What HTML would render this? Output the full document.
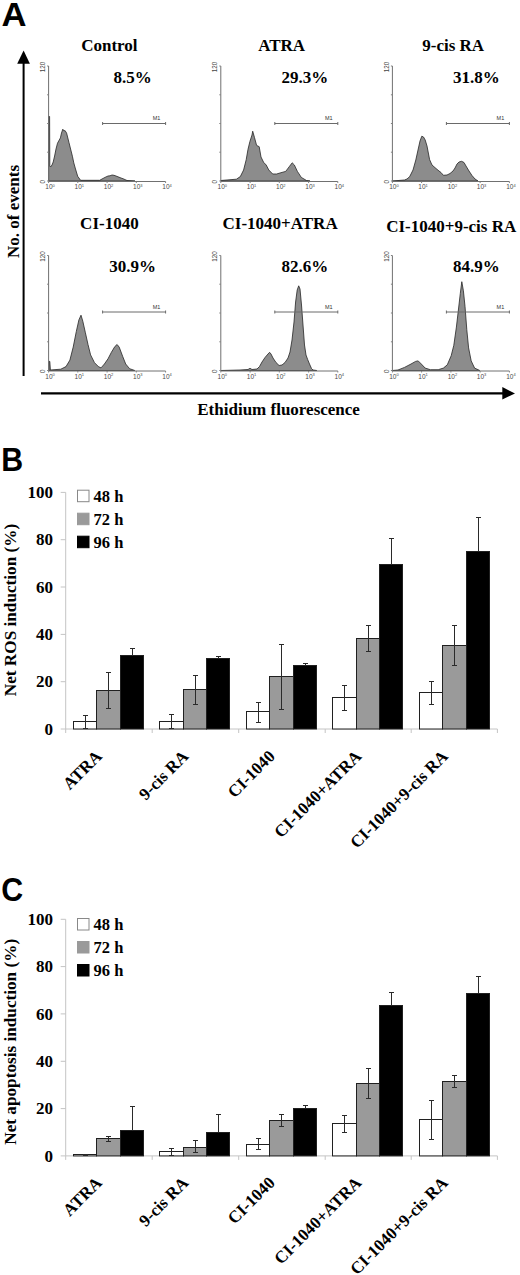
<!DOCTYPE html>
<html><head><meta charset="utf-8"><title>Figure</title>
<style>
html,body{margin:0;padding:0;background:#fff;}
body{width:520px;height:1275px;overflow:hidden;font-family:"Liberation Serif",serif;}
svg{display:block;}
</style></head>
<body>
<svg width="520" height="1275" viewBox="0 0 520 1275">
<rect x="0" y="0" width="520" height="1275" fill="#fff"/>
<text transform="translate(1.4,26.1) scale(1.05,1)" font-family='"Liberation Sans", sans-serif' font-weight="bold" font-size="33">A</text>
<line x1="23.6" y1="62" x2="23.6" y2="376" stroke="#000" stroke-width="2"/>
<polygon points="17.2,63.7 29.9,63.7 23.6,50.6" fill="#000"/>
<line x1="41" y1="393.4" x2="504" y2="393.4" stroke="#000" stroke-width="2.2"/>
<polygon points="502.3,387.1 502.3,399.6 515,393.4" fill="#000"/>
<text transform="translate(18.8,211.5) rotate(-90)" text-anchor="middle" font-family='"Liberation Serif", serif' font-weight="bold" font-size="17">No. of events</text>
<text x="278.6" y="415.1" text-anchor="middle" font-family='"Liberation Serif", serif' font-weight="bold" font-size="17">Ethidium fluorescence</text>
<text x="109.4" y="50.7" text-anchor="middle" font-family='"Liberation Serif", serif' font-weight="bold" font-size="17">Control</text>
<text x="132.6" y="83.0" text-anchor="middle" font-family='"Liberation Serif", serif' font-weight="bold" font-size="17">8.5%</text>
<path d="M48.6,181.0 L48.6,116.5 L49.6,116.5 L49.8,166.0 L50.5,167.0 L52.0,165.0 L53.2,162.0 L54.6,156.0 L56.0,149.0 L57.5,143.2 L60.4,137.9 L61.5,133.0 L62.8,129.2 L64.0,131.0 L65.0,130.5 L66.6,133.1 L69.0,142.7 L72.4,156.2 L73.8,162.9 L75.5,169.0 L77.7,176.3 L80.6,180.3 L99.7,180.3 L102.0,179.0 L105.0,177.4 L108.0,176.0 L110.0,175.8 L112.0,175.0 L114.0,175.3 L116.0,176.0 L118.0,176.8 L121.0,178.0 L123.0,178.7 L127.0,180.5 L135.0,181.0 Z" fill="#8c8c8c" stroke="#262626" stroke-width="0.8" stroke-linejoin="round"/>
<line x1="48.6" y1="66.0" x2="48.6" y2="181.5" stroke="#707070" stroke-width="1"/>
<line x1="48.6" y1="181.5" x2="165.6" y2="181.5" stroke="#707070" stroke-width="1"/>
<line x1="47.1" y1="181.0" x2="48.6" y2="181.0" stroke="#808080" stroke-width="1"/>
<line x1="48.6" y1="181.5" x2="48.6" y2="183.0" stroke="#808080" stroke-width="1"/>
<text x="50.1" y="189.0" text-anchor="middle" font-family='"Liberation Sans", sans-serif' font-size="6.5" fill="#4a4a4a">10<tspan dy="-2.5" font-size="4">0</tspan></text>
<line x1="47.1" y1="152.2" x2="48.6" y2="152.2" stroke="#808080" stroke-width="1"/>
<line x1="77.8" y1="181.5" x2="77.8" y2="183.0" stroke="#808080" stroke-width="1"/>
<text x="79.3" y="189.0" text-anchor="middle" font-family='"Liberation Sans", sans-serif' font-size="6.5" fill="#4a4a4a">10<tspan dy="-2.5" font-size="4">1</tspan></text>
<line x1="47.1" y1="123.5" x2="48.6" y2="123.5" stroke="#808080" stroke-width="1"/>
<line x1="107.1" y1="181.5" x2="107.1" y2="183.0" stroke="#808080" stroke-width="1"/>
<text x="108.6" y="189.0" text-anchor="middle" font-family='"Liberation Sans", sans-serif' font-size="6.5" fill="#4a4a4a">10<tspan dy="-2.5" font-size="4">2</tspan></text>
<line x1="47.1" y1="94.8" x2="48.6" y2="94.8" stroke="#808080" stroke-width="1"/>
<line x1="136.3" y1="181.5" x2="136.3" y2="183.0" stroke="#808080" stroke-width="1"/>
<text x="137.8" y="189.0" text-anchor="middle" font-family='"Liberation Sans", sans-serif' font-size="6.5" fill="#4a4a4a">10<tspan dy="-2.5" font-size="4">3</tspan></text>
<line x1="47.1" y1="66.0" x2="48.6" y2="66.0" stroke="#808080" stroke-width="1"/>
<line x1="165.6" y1="181.5" x2="165.6" y2="183.0" stroke="#808080" stroke-width="1"/>
<text x="167.1" y="189.0" text-anchor="middle" font-family='"Liberation Sans", sans-serif' font-size="6.5" fill="#4a4a4a">10<tspan dy="-2.5" font-size="4">4</tspan></text>
<text transform="translate(45.2,67.0) rotate(-90)" text-anchor="middle" font-family='"Liberation Sans", sans-serif' font-size="6.3" fill="#444">120</text>
<text transform="translate(45.2,181.8) rotate(-90)" text-anchor="middle" font-family='"Liberation Sans", sans-serif' font-size="6.3" fill="#444">0</text>
<line x1="102.6" y1="123.5" x2="165.6" y2="123.5" stroke="#6a6a6a" stroke-width="1"/>
<line x1="102.6" y1="122.0" x2="102.6" y2="125.0" stroke="#6a6a6a" stroke-width="1"/>
<line x1="165.6" y1="122.0" x2="165.6" y2="125.0" stroke="#6a6a6a" stroke-width="1"/>
<text x="156.6" y="120.0" text-anchor="middle" font-family='"Liberation Sans", sans-serif' font-size="5.5" fill="#333">M1</text>
<text x="281.6" y="50.7" text-anchor="middle" font-family='"Liberation Serif", serif' font-weight="bold" font-size="17">ATRA</text>
<text x="304.8" y="83.0" text-anchor="middle" font-family='"Liberation Serif", serif' font-weight="bold" font-size="17">29.3%</text>
<path d="M220.8,181.0 L220.8,180.5 L236.4,179.2 L240.3,176.6 L243.6,170.0 L246.2,159.7 L248.0,149.3 L249.9,141.5 L252.0,135.0 L252.7,131.2 L254.5,137.6 L256.6,145.4 L259.2,146.7 L261.0,157.0 L263.6,162.3 L266.2,165.0 L268.8,170.0 L272.7,174.0 L276.6,174.0 L281.0,172.7 L285.7,171.4 L289.6,166.2 L292.2,162.8 L294.3,164.9 L297.4,171.4 L301.3,177.4 L306.5,180.5 L310.0,181.0 Z" fill="#8c8c8c" stroke="#262626" stroke-width="0.8" stroke-linejoin="round"/>
<line x1="220.8" y1="66.0" x2="220.8" y2="181.5" stroke="#707070" stroke-width="1"/>
<line x1="220.8" y1="181.5" x2="337.8" y2="181.5" stroke="#707070" stroke-width="1"/>
<line x1="219.3" y1="181.0" x2="220.8" y2="181.0" stroke="#808080" stroke-width="1"/>
<line x1="220.8" y1="181.5" x2="220.8" y2="183.0" stroke="#808080" stroke-width="1"/>
<text x="222.3" y="189.0" text-anchor="middle" font-family='"Liberation Sans", sans-serif' font-size="6.5" fill="#4a4a4a">10<tspan dy="-2.5" font-size="4">0</tspan></text>
<line x1="219.3" y1="152.2" x2="220.8" y2="152.2" stroke="#808080" stroke-width="1"/>
<line x1="250.1" y1="181.5" x2="250.1" y2="183.0" stroke="#808080" stroke-width="1"/>
<text x="251.6" y="189.0" text-anchor="middle" font-family='"Liberation Sans", sans-serif' font-size="6.5" fill="#4a4a4a">10<tspan dy="-2.5" font-size="4">1</tspan></text>
<line x1="219.3" y1="123.5" x2="220.8" y2="123.5" stroke="#808080" stroke-width="1"/>
<line x1="279.3" y1="181.5" x2="279.3" y2="183.0" stroke="#808080" stroke-width="1"/>
<text x="280.8" y="189.0" text-anchor="middle" font-family='"Liberation Sans", sans-serif' font-size="6.5" fill="#4a4a4a">10<tspan dy="-2.5" font-size="4">2</tspan></text>
<line x1="219.3" y1="94.8" x2="220.8" y2="94.8" stroke="#808080" stroke-width="1"/>
<line x1="308.6" y1="181.5" x2="308.6" y2="183.0" stroke="#808080" stroke-width="1"/>
<text x="310.1" y="189.0" text-anchor="middle" font-family='"Liberation Sans", sans-serif' font-size="6.5" fill="#4a4a4a">10<tspan dy="-2.5" font-size="4">3</tspan></text>
<line x1="219.3" y1="66.0" x2="220.8" y2="66.0" stroke="#808080" stroke-width="1"/>
<line x1="337.8" y1="181.5" x2="337.8" y2="183.0" stroke="#808080" stroke-width="1"/>
<text x="339.3" y="189.0" text-anchor="middle" font-family='"Liberation Sans", sans-serif' font-size="6.5" fill="#4a4a4a">10<tspan dy="-2.5" font-size="4">4</tspan></text>
<text transform="translate(217.4,67.0) rotate(-90)" text-anchor="middle" font-family='"Liberation Sans", sans-serif' font-size="6.3" fill="#444">120</text>
<text transform="translate(217.4,181.8) rotate(-90)" text-anchor="middle" font-family='"Liberation Sans", sans-serif' font-size="6.3" fill="#444">0</text>
<line x1="274.8" y1="123.5" x2="337.8" y2="123.5" stroke="#6a6a6a" stroke-width="1"/>
<line x1="274.8" y1="122.0" x2="274.8" y2="125.0" stroke="#6a6a6a" stroke-width="1"/>
<line x1="337.8" y1="122.0" x2="337.8" y2="125.0" stroke="#6a6a6a" stroke-width="1"/>
<text x="328.8" y="120.0" text-anchor="middle" font-family='"Liberation Sans", sans-serif' font-size="5.5" fill="#333">M1</text>
<text x="453.2" y="50.7" text-anchor="middle" font-family='"Liberation Serif", serif' font-weight="bold" font-size="17">9-cis RA</text>
<text x="476.4" y="83.0" text-anchor="middle" font-family='"Liberation Serif", serif' font-weight="bold" font-size="17">31.8%</text>
<path d="M392.4,181.0 L404.5,180.0 L407.0,179.0 L409.7,176.6 L413.0,170.0 L415.8,160.0 L418.0,150.0 L420.0,141.0 L421.8,136.2 L423.5,137.0 L425.2,140.0 L427.0,146.0 L429.6,159.6 L432.0,165.0 L436.0,168.5 L439.0,171.0 L441.0,172.5 L443.4,175.3 L447.0,175.0 L450.0,173.5 L453.0,171.0 L455.0,168.0 L457.0,164.0 L459.0,162.0 L461.6,161.3 L464.0,162.5 L466.0,166.0 L469.0,171.0 L472.0,175.5 L475.0,179.0 L478.0,181.0 Z" fill="#8c8c8c" stroke="#262626" stroke-width="0.8" stroke-linejoin="round"/>
<line x1="392.4" y1="66.0" x2="392.4" y2="181.5" stroke="#707070" stroke-width="1"/>
<line x1="392.4" y1="181.5" x2="509.4" y2="181.5" stroke="#707070" stroke-width="1"/>
<line x1="390.9" y1="181.0" x2="392.4" y2="181.0" stroke="#808080" stroke-width="1"/>
<line x1="392.4" y1="181.5" x2="392.4" y2="183.0" stroke="#808080" stroke-width="1"/>
<text x="393.9" y="189.0" text-anchor="middle" font-family='"Liberation Sans", sans-serif' font-size="6.5" fill="#4a4a4a">10<tspan dy="-2.5" font-size="4">0</tspan></text>
<line x1="390.9" y1="152.2" x2="392.4" y2="152.2" stroke="#808080" stroke-width="1"/>
<line x1="421.6" y1="181.5" x2="421.6" y2="183.0" stroke="#808080" stroke-width="1"/>
<text x="423.1" y="189.0" text-anchor="middle" font-family='"Liberation Sans", sans-serif' font-size="6.5" fill="#4a4a4a">10<tspan dy="-2.5" font-size="4">1</tspan></text>
<line x1="390.9" y1="123.5" x2="392.4" y2="123.5" stroke="#808080" stroke-width="1"/>
<line x1="450.9" y1="181.5" x2="450.9" y2="183.0" stroke="#808080" stroke-width="1"/>
<text x="452.4" y="189.0" text-anchor="middle" font-family='"Liberation Sans", sans-serif' font-size="6.5" fill="#4a4a4a">10<tspan dy="-2.5" font-size="4">2</tspan></text>
<line x1="390.9" y1="94.8" x2="392.4" y2="94.8" stroke="#808080" stroke-width="1"/>
<line x1="480.1" y1="181.5" x2="480.1" y2="183.0" stroke="#808080" stroke-width="1"/>
<text x="481.6" y="189.0" text-anchor="middle" font-family='"Liberation Sans", sans-serif' font-size="6.5" fill="#4a4a4a">10<tspan dy="-2.5" font-size="4">3</tspan></text>
<line x1="390.9" y1="66.0" x2="392.4" y2="66.0" stroke="#808080" stroke-width="1"/>
<line x1="509.4" y1="181.5" x2="509.4" y2="183.0" stroke="#808080" stroke-width="1"/>
<text x="510.9" y="189.0" text-anchor="middle" font-family='"Liberation Sans", sans-serif' font-size="6.5" fill="#4a4a4a">10<tspan dy="-2.5" font-size="4">4</tspan></text>
<text transform="translate(389.0,67.0) rotate(-90)" text-anchor="middle" font-family='"Liberation Sans", sans-serif' font-size="6.3" fill="#444">120</text>
<text transform="translate(389.0,181.8) rotate(-90)" text-anchor="middle" font-family='"Liberation Sans", sans-serif' font-size="6.3" fill="#444">0</text>
<line x1="446.4" y1="123.5" x2="509.4" y2="123.5" stroke="#6a6a6a" stroke-width="1"/>
<line x1="446.4" y1="122.0" x2="446.4" y2="125.0" stroke="#6a6a6a" stroke-width="1"/>
<line x1="509.4" y1="122.0" x2="509.4" y2="125.0" stroke="#6a6a6a" stroke-width="1"/>
<text x="500.4" y="120.0" text-anchor="middle" font-family='"Liberation Sans", sans-serif' font-size="5.5" fill="#333">M1</text>
<text x="109.4" y="229.3" text-anchor="middle" font-family='"Liberation Serif", serif' font-weight="bold" font-size="17">CI-1040</text>
<text x="132.6" y="271.9" text-anchor="middle" font-family='"Liberation Serif", serif' font-weight="bold" font-size="17">30.9%</text>
<path d="M49.0,370.5 L49.0,361.4 L49.8,361.4 L50.4,370.0 L60.8,369.2 L66.0,366.6 L69.9,360.1 L73.2,347.1 L76.3,331.5 L78.9,319.9 L81.0,315.2 L82.8,321.2 L85.4,332.8 L88.0,344.5 L90.6,354.9 L94.5,362.7 L98.4,366.6 L101.0,367.9 L104.4,364.0 L108.0,358.8 L111.4,352.3 L114.8,346.6 L117.1,344.5 L119.2,347.1 L122.6,356.2 L125.7,364.0 L129.6,368.7 L134.8,370.5 Z" fill="#8c8c8c" stroke="#262626" stroke-width="0.8" stroke-linejoin="round"/>
<line x1="48.6" y1="255.5" x2="48.6" y2="371.0" stroke="#707070" stroke-width="1"/>
<line x1="48.6" y1="371.0" x2="165.6" y2="371.0" stroke="#707070" stroke-width="1"/>
<line x1="47.1" y1="370.5" x2="48.6" y2="370.5" stroke="#808080" stroke-width="1"/>
<line x1="48.6" y1="371.0" x2="48.6" y2="372.5" stroke="#808080" stroke-width="1"/>
<text x="50.1" y="378.5" text-anchor="middle" font-family='"Liberation Sans", sans-serif' font-size="6.5" fill="#4a4a4a">10<tspan dy="-2.5" font-size="4">0</tspan></text>
<line x1="47.1" y1="341.8" x2="48.6" y2="341.8" stroke="#808080" stroke-width="1"/>
<line x1="77.8" y1="371.0" x2="77.8" y2="372.5" stroke="#808080" stroke-width="1"/>
<text x="79.3" y="378.5" text-anchor="middle" font-family='"Liberation Sans", sans-serif' font-size="6.5" fill="#4a4a4a">10<tspan dy="-2.5" font-size="4">1</tspan></text>
<line x1="47.1" y1="313.0" x2="48.6" y2="313.0" stroke="#808080" stroke-width="1"/>
<line x1="107.1" y1="371.0" x2="107.1" y2="372.5" stroke="#808080" stroke-width="1"/>
<text x="108.6" y="378.5" text-anchor="middle" font-family='"Liberation Sans", sans-serif' font-size="6.5" fill="#4a4a4a">10<tspan dy="-2.5" font-size="4">2</tspan></text>
<line x1="47.1" y1="284.2" x2="48.6" y2="284.2" stroke="#808080" stroke-width="1"/>
<line x1="136.3" y1="371.0" x2="136.3" y2="372.5" stroke="#808080" stroke-width="1"/>
<text x="137.8" y="378.5" text-anchor="middle" font-family='"Liberation Sans", sans-serif' font-size="6.5" fill="#4a4a4a">10<tspan dy="-2.5" font-size="4">3</tspan></text>
<line x1="47.1" y1="255.5" x2="48.6" y2="255.5" stroke="#808080" stroke-width="1"/>
<line x1="165.6" y1="371.0" x2="165.6" y2="372.5" stroke="#808080" stroke-width="1"/>
<text x="167.1" y="378.5" text-anchor="middle" font-family='"Liberation Sans", sans-serif' font-size="6.5" fill="#4a4a4a">10<tspan dy="-2.5" font-size="4">4</tspan></text>
<text transform="translate(45.2,256.5) rotate(-90)" text-anchor="middle" font-family='"Liberation Sans", sans-serif' font-size="6.3" fill="#444">120</text>
<text transform="translate(45.2,371.3) rotate(-90)" text-anchor="middle" font-family='"Liberation Sans", sans-serif' font-size="6.3" fill="#444">0</text>
<line x1="102.6" y1="312.0" x2="165.6" y2="312.0" stroke="#6a6a6a" stroke-width="1"/>
<line x1="102.6" y1="310.5" x2="102.6" y2="313.5" stroke="#6a6a6a" stroke-width="1"/>
<line x1="165.6" y1="310.5" x2="165.6" y2="313.5" stroke="#6a6a6a" stroke-width="1"/>
<text x="156.6" y="308.5" text-anchor="middle" font-family='"Liberation Sans", sans-serif' font-size="5.5" fill="#333">M1</text>
<text x="280.1" y="229.0" text-anchor="middle" font-family='"Liberation Serif", serif' font-weight="bold" font-size="17">CI-1040+ATRA</text>
<text x="304.8" y="271.9" text-anchor="middle" font-family='"Liberation Serif", serif' font-weight="bold" font-size="17">82.6%</text>
<path d="M220.8,370.5 L240.0,370.0 L248.0,369.5 L250.0,368.3 L252.0,369.5 L257.0,369.0 L259.5,366.5 L262.0,362.0 L265.0,357.5 L268.0,354.0 L269.6,352.3 L271.0,354.0 L273.0,358.0 L276.0,362.5 L279.1,365.5 L282.0,365.0 L285.0,362.5 L288.0,358.0 L290.0,352.0 L292.0,340.0 L294.0,322.0 L295.6,302.0 L297.2,290.0 L298.7,285.8 L300.0,289.0 L301.5,305.0 L303.0,325.0 L304.5,345.0 L306.0,355.0 L307.7,359.6 L309.5,364.0 L311.5,368.5 L313.0,370.0 L316.8,370.5 Z" fill="#8c8c8c" stroke="#262626" stroke-width="0.8" stroke-linejoin="round"/>
<line x1="220.8" y1="255.5" x2="220.8" y2="371.0" stroke="#707070" stroke-width="1"/>
<line x1="220.8" y1="371.0" x2="337.8" y2="371.0" stroke="#707070" stroke-width="1"/>
<line x1="219.3" y1="370.5" x2="220.8" y2="370.5" stroke="#808080" stroke-width="1"/>
<line x1="220.8" y1="371.0" x2="220.8" y2="372.5" stroke="#808080" stroke-width="1"/>
<text x="222.3" y="378.5" text-anchor="middle" font-family='"Liberation Sans", sans-serif' font-size="6.5" fill="#4a4a4a">10<tspan dy="-2.5" font-size="4">0</tspan></text>
<line x1="219.3" y1="341.8" x2="220.8" y2="341.8" stroke="#808080" stroke-width="1"/>
<line x1="250.1" y1="371.0" x2="250.1" y2="372.5" stroke="#808080" stroke-width="1"/>
<text x="251.6" y="378.5" text-anchor="middle" font-family='"Liberation Sans", sans-serif' font-size="6.5" fill="#4a4a4a">10<tspan dy="-2.5" font-size="4">1</tspan></text>
<line x1="219.3" y1="313.0" x2="220.8" y2="313.0" stroke="#808080" stroke-width="1"/>
<line x1="279.3" y1="371.0" x2="279.3" y2="372.5" stroke="#808080" stroke-width="1"/>
<text x="280.8" y="378.5" text-anchor="middle" font-family='"Liberation Sans", sans-serif' font-size="6.5" fill="#4a4a4a">10<tspan dy="-2.5" font-size="4">2</tspan></text>
<line x1="219.3" y1="284.2" x2="220.8" y2="284.2" stroke="#808080" stroke-width="1"/>
<line x1="308.6" y1="371.0" x2="308.6" y2="372.5" stroke="#808080" stroke-width="1"/>
<text x="310.1" y="378.5" text-anchor="middle" font-family='"Liberation Sans", sans-serif' font-size="6.5" fill="#4a4a4a">10<tspan dy="-2.5" font-size="4">3</tspan></text>
<line x1="219.3" y1="255.5" x2="220.8" y2="255.5" stroke="#808080" stroke-width="1"/>
<line x1="337.8" y1="371.0" x2="337.8" y2="372.5" stroke="#808080" stroke-width="1"/>
<text x="339.3" y="378.5" text-anchor="middle" font-family='"Liberation Sans", sans-serif' font-size="6.5" fill="#4a4a4a">10<tspan dy="-2.5" font-size="4">4</tspan></text>
<text transform="translate(217.4,256.5) rotate(-90)" text-anchor="middle" font-family='"Liberation Sans", sans-serif' font-size="6.3" fill="#444">120</text>
<text transform="translate(217.4,371.3) rotate(-90)" text-anchor="middle" font-family='"Liberation Sans", sans-serif' font-size="6.3" fill="#444">0</text>
<line x1="274.8" y1="312.0" x2="337.8" y2="312.0" stroke="#6a6a6a" stroke-width="1"/>
<line x1="274.8" y1="310.5" x2="274.8" y2="313.5" stroke="#6a6a6a" stroke-width="1"/>
<line x1="337.8" y1="310.5" x2="337.8" y2="313.5" stroke="#6a6a6a" stroke-width="1"/>
<text x="328.8" y="308.5" text-anchor="middle" font-family='"Liberation Sans", sans-serif' font-size="5.5" fill="#333">M1</text>
<text x="451.2" y="231.7" text-anchor="middle" font-family='"Liberation Serif", serif' font-weight="bold" font-size="17">CI-1040+9-cis RA</text>
<text x="476.4" y="271.9" text-anchor="middle" font-family='"Liberation Serif", serif' font-weight="bold" font-size="17">84.9%</text>
<path d="M392.4,370.5 L398.0,370.0 L404.5,367.4 L411.0,364.0 L415.6,361.4 L418.2,360.9 L421.3,364.0 L425.2,368.1 L430.4,369.7 L438.2,369.7 L443.4,368.1 L447.3,364.8 L451.2,355.7 L453.8,345.3 L456.4,327.1 L458.5,309.0 L460.3,293.4 L461.8,281.7 L463.4,290.8 L465.0,306.3 L466.8,329.7 L468.6,347.9 L471.2,360.9 L474.6,368.1 L479.8,370.5 Z" fill="#8c8c8c" stroke="#262626" stroke-width="0.8" stroke-linejoin="round"/>
<line x1="392.4" y1="255.5" x2="392.4" y2="371.0" stroke="#707070" stroke-width="1"/>
<line x1="392.4" y1="371.0" x2="509.4" y2="371.0" stroke="#707070" stroke-width="1"/>
<line x1="390.9" y1="370.5" x2="392.4" y2="370.5" stroke="#808080" stroke-width="1"/>
<line x1="392.4" y1="371.0" x2="392.4" y2="372.5" stroke="#808080" stroke-width="1"/>
<text x="393.9" y="378.5" text-anchor="middle" font-family='"Liberation Sans", sans-serif' font-size="6.5" fill="#4a4a4a">10<tspan dy="-2.5" font-size="4">0</tspan></text>
<line x1="390.9" y1="341.8" x2="392.4" y2="341.8" stroke="#808080" stroke-width="1"/>
<line x1="421.6" y1="371.0" x2="421.6" y2="372.5" stroke="#808080" stroke-width="1"/>
<text x="423.1" y="378.5" text-anchor="middle" font-family='"Liberation Sans", sans-serif' font-size="6.5" fill="#4a4a4a">10<tspan dy="-2.5" font-size="4">1</tspan></text>
<line x1="390.9" y1="313.0" x2="392.4" y2="313.0" stroke="#808080" stroke-width="1"/>
<line x1="450.9" y1="371.0" x2="450.9" y2="372.5" stroke="#808080" stroke-width="1"/>
<text x="452.4" y="378.5" text-anchor="middle" font-family='"Liberation Sans", sans-serif' font-size="6.5" fill="#4a4a4a">10<tspan dy="-2.5" font-size="4">2</tspan></text>
<line x1="390.9" y1="284.2" x2="392.4" y2="284.2" stroke="#808080" stroke-width="1"/>
<line x1="480.1" y1="371.0" x2="480.1" y2="372.5" stroke="#808080" stroke-width="1"/>
<text x="481.6" y="378.5" text-anchor="middle" font-family='"Liberation Sans", sans-serif' font-size="6.5" fill="#4a4a4a">10<tspan dy="-2.5" font-size="4">3</tspan></text>
<line x1="390.9" y1="255.5" x2="392.4" y2="255.5" stroke="#808080" stroke-width="1"/>
<line x1="509.4" y1="371.0" x2="509.4" y2="372.5" stroke="#808080" stroke-width="1"/>
<text x="510.9" y="378.5" text-anchor="middle" font-family='"Liberation Sans", sans-serif' font-size="6.5" fill="#4a4a4a">10<tspan dy="-2.5" font-size="4">4</tspan></text>
<text transform="translate(389.0,256.5) rotate(-90)" text-anchor="middle" font-family='"Liberation Sans", sans-serif' font-size="6.3" fill="#444">120</text>
<text transform="translate(389.0,371.3) rotate(-90)" text-anchor="middle" font-family='"Liberation Sans", sans-serif' font-size="6.3" fill="#444">0</text>
<line x1="446.4" y1="312.0" x2="509.4" y2="312.0" stroke="#6a6a6a" stroke-width="1"/>
<line x1="446.4" y1="310.5" x2="446.4" y2="313.5" stroke="#6a6a6a" stroke-width="1"/>
<line x1="509.4" y1="310.5" x2="509.4" y2="313.5" stroke="#6a6a6a" stroke-width="1"/>
<text x="500.4" y="308.5" text-anchor="middle" font-family='"Liberation Sans", sans-serif' font-size="5.5" fill="#333">M1</text>
<text transform="translate(1.3,471.2) scale(0.92,1)" font-family='"Liberation Sans", sans-serif' font-weight="bold" font-size="33">B</text>
<line x1="65.7" y1="492.4" x2="65.7" y2="729.0" stroke="#c4c4c4" stroke-width="1"/>
<line x1="60.7" y1="729.0" x2="65.7" y2="729.0" stroke="#c4c4c4" stroke-width="1"/>
<text x="53" y="734.6" text-anchor="end" font-family='"Liberation Serif", serif' font-weight="bold" font-size="17">0</text>
<line x1="60.7" y1="681.7" x2="65.7" y2="681.7" stroke="#c4c4c4" stroke-width="1"/>
<text x="53" y="687.3" text-anchor="end" font-family='"Liberation Serif", serif' font-weight="bold" font-size="17">20</text>
<line x1="60.7" y1="634.4" x2="65.7" y2="634.4" stroke="#c4c4c4" stroke-width="1"/>
<text x="53" y="640.0" text-anchor="end" font-family='"Liberation Serif", serif' font-weight="bold" font-size="17">40</text>
<line x1="60.7" y1="587.0" x2="65.7" y2="587.0" stroke="#c4c4c4" stroke-width="1"/>
<text x="53" y="592.6" text-anchor="end" font-family='"Liberation Serif", serif' font-weight="bold" font-size="17">60</text>
<line x1="60.7" y1="539.7" x2="65.7" y2="539.7" stroke="#c4c4c4" stroke-width="1"/>
<text x="53" y="545.3" text-anchor="end" font-family='"Liberation Serif", serif' font-weight="bold" font-size="17">80</text>
<line x1="60.7" y1="492.4" x2="65.7" y2="492.4" stroke="#c4c4c4" stroke-width="1"/>
<text x="53" y="498.0" text-anchor="end" font-family='"Liberation Serif", serif' font-weight="bold" font-size="17">100</text>
<line x1="65.7" y1="729.0" x2="497.4" y2="729.0" stroke="#c4c4c4" stroke-width="1"/>
<line x1="65.7" y1="729.0" x2="65.7" y2="733.0" stroke="#c4c4c4" stroke-width="1"/>
<line x1="152.2" y1="729.0" x2="152.2" y2="733.0" stroke="#c4c4c4" stroke-width="1"/>
<line x1="238.7" y1="729.0" x2="238.7" y2="733.0" stroke="#c4c4c4" stroke-width="1"/>
<line x1="325.2" y1="729.0" x2="325.2" y2="733.0" stroke="#c4c4c4" stroke-width="1"/>
<line x1="411.2" y1="729.0" x2="411.2" y2="733.0" stroke="#c4c4c4" stroke-width="1"/>
<line x1="497.4" y1="729.0" x2="497.4" y2="733.0" stroke="#c4c4c4" stroke-width="1"/>
<text transform="translate(15.6,610) rotate(-90)" text-anchor="middle" font-family='"Liberation Serif", serif' font-weight="bold" font-size="17.2">Net ROS induction (%)</text>
<rect x="73.50" y="721.50" width="23.00" height="7.50" fill="#ffffff" stroke="#202020" stroke-width="1"/>
<line x1="85.5" y1="715.5" x2="85.5" y2="728.5" stroke="#2a2a2a" stroke-width="1"/>
<line x1="83.0" y1="715.5" x2="88.0" y2="715.5" stroke="#2a2a2a" stroke-width="1"/>
<line x1="83.0" y1="728.5" x2="88.0" y2="728.5" stroke="#2a2a2a" stroke-width="1"/>
<rect x="96.50" y="690.50" width="24.00" height="38.50" fill="#9a9a9a" stroke="#202020" stroke-width="1"/>
<line x1="108.5" y1="672.5" x2="108.5" y2="708.5" stroke="#2a2a2a" stroke-width="1"/>
<line x1="106.0" y1="672.5" x2="111.0" y2="672.5" stroke="#2a2a2a" stroke-width="1"/>
<line x1="106.0" y1="708.5" x2="111.0" y2="708.5" stroke="#2a2a2a" stroke-width="1"/>
<rect x="120.50" y="655.50" width="23.00" height="73.50" fill="#000000" stroke="#202020" stroke-width="1"/>
<line x1="132.5" y1="648.5" x2="132.5" y2="655.50" stroke="#2a2a2a" stroke-width="1"/>
<line x1="130.0" y1="648.5" x2="135.0" y2="648.5" stroke="#2a2a2a" stroke-width="1"/>
<text transform="translate(102.9,757.3) rotate(-45)" text-anchor="end" font-family='"Liberation Serif", serif' font-weight="bold" font-size="17">ATRA</text>
<rect x="159.50" y="721.50" width="24.00" height="7.50" fill="#ffffff" stroke="#202020" stroke-width="1"/>
<line x1="171.5" y1="714.5" x2="171.5" y2="728.5" stroke="#2a2a2a" stroke-width="1"/>
<line x1="169.0" y1="714.5" x2="174.0" y2="714.5" stroke="#2a2a2a" stroke-width="1"/>
<line x1="169.0" y1="728.5" x2="174.0" y2="728.5" stroke="#2a2a2a" stroke-width="1"/>
<rect x="183.50" y="689.50" width="23.00" height="39.50" fill="#9a9a9a" stroke="#202020" stroke-width="1"/>
<line x1="195.5" y1="675.5" x2="195.5" y2="704.5" stroke="#2a2a2a" stroke-width="1"/>
<line x1="193.0" y1="675.5" x2="198.0" y2="675.5" stroke="#2a2a2a" stroke-width="1"/>
<line x1="193.0" y1="704.5" x2="198.0" y2="704.5" stroke="#2a2a2a" stroke-width="1"/>
<rect x="206.50" y="658.50" width="23.00" height="70.50" fill="#000000" stroke="#202020" stroke-width="1"/>
<line x1="218.5" y1="656.5" x2="218.5" y2="658.50" stroke="#2a2a2a" stroke-width="1"/>
<line x1="216.0" y1="656.5" x2="221.0" y2="656.5" stroke="#2a2a2a" stroke-width="1"/>
<text transform="translate(189.4,757.3) rotate(-45)" text-anchor="end" font-family='"Liberation Serif", serif' font-weight="bold" font-size="17">9-cis RA</text>
<rect x="246.50" y="711.50" width="23.00" height="17.50" fill="#ffffff" stroke="#202020" stroke-width="1"/>
<line x1="258.5" y1="702.5" x2="258.5" y2="722.5" stroke="#2a2a2a" stroke-width="1"/>
<line x1="256.0" y1="702.5" x2="261.0" y2="702.5" stroke="#2a2a2a" stroke-width="1"/>
<line x1="256.0" y1="722.5" x2="261.0" y2="722.5" stroke="#2a2a2a" stroke-width="1"/>
<rect x="269.50" y="676.50" width="24.00" height="52.50" fill="#9a9a9a" stroke="#202020" stroke-width="1"/>
<line x1="281.5" y1="644.5" x2="281.5" y2="709.5" stroke="#2a2a2a" stroke-width="1"/>
<line x1="279.0" y1="644.5" x2="284.0" y2="644.5" stroke="#2a2a2a" stroke-width="1"/>
<line x1="279.0" y1="709.5" x2="284.0" y2="709.5" stroke="#2a2a2a" stroke-width="1"/>
<rect x="293.50" y="665.50" width="23.00" height="63.50" fill="#000000" stroke="#202020" stroke-width="1"/>
<line x1="305.5" y1="663.5" x2="305.5" y2="665.50" stroke="#2a2a2a" stroke-width="1"/>
<line x1="303.0" y1="663.5" x2="308.0" y2="663.5" stroke="#2a2a2a" stroke-width="1"/>
<text transform="translate(275.9,757.3) rotate(-45)" text-anchor="end" font-family='"Liberation Serif", serif' font-weight="bold" font-size="17">CI-1040</text>
<rect x="332.50" y="697.50" width="24.00" height="31.50" fill="#ffffff" stroke="#202020" stroke-width="1"/>
<line x1="344.5" y1="685.5" x2="344.5" y2="710.5" stroke="#2a2a2a" stroke-width="1"/>
<line x1="342.0" y1="685.5" x2="347.0" y2="685.5" stroke="#2a2a2a" stroke-width="1"/>
<line x1="342.0" y1="710.5" x2="347.0" y2="710.5" stroke="#2a2a2a" stroke-width="1"/>
<rect x="356.50" y="638.50" width="23.00" height="90.50" fill="#9a9a9a" stroke="#202020" stroke-width="1"/>
<line x1="368.5" y1="625.5" x2="368.5" y2="651.5" stroke="#2a2a2a" stroke-width="1"/>
<line x1="366.0" y1="625.5" x2="371.0" y2="625.5" stroke="#2a2a2a" stroke-width="1"/>
<line x1="366.0" y1="651.5" x2="371.0" y2="651.5" stroke="#2a2a2a" stroke-width="1"/>
<rect x="379.50" y="564.50" width="23.00" height="164.50" fill="#000000" stroke="#202020" stroke-width="1"/>
<line x1="391.5" y1="538.5" x2="391.5" y2="564.50" stroke="#2a2a2a" stroke-width="1"/>
<line x1="389.0" y1="538.5" x2="394.0" y2="538.5" stroke="#2a2a2a" stroke-width="1"/>
<text transform="translate(362.4,757.3) rotate(-45)" text-anchor="end" font-family='"Liberation Serif", serif' font-weight="bold" font-size="17">CI-1040+ATRA</text>
<rect x="419.50" y="692.50" width="23.00" height="36.50" fill="#ffffff" stroke="#202020" stroke-width="1"/>
<line x1="431.5" y1="681.5" x2="431.5" y2="704.5" stroke="#2a2a2a" stroke-width="1"/>
<line x1="429.0" y1="681.5" x2="434.0" y2="681.5" stroke="#2a2a2a" stroke-width="1"/>
<line x1="429.0" y1="704.5" x2="434.0" y2="704.5" stroke="#2a2a2a" stroke-width="1"/>
<rect x="442.50" y="645.50" width="24.00" height="83.50" fill="#9a9a9a" stroke="#202020" stroke-width="1"/>
<line x1="454.5" y1="625.5" x2="454.5" y2="665.5" stroke="#2a2a2a" stroke-width="1"/>
<line x1="452.0" y1="625.5" x2="457.0" y2="625.5" stroke="#2a2a2a" stroke-width="1"/>
<line x1="452.0" y1="665.5" x2="457.0" y2="665.5" stroke="#2a2a2a" stroke-width="1"/>
<rect x="466.50" y="551.50" width="23.00" height="177.50" fill="#000000" stroke="#202020" stroke-width="1"/>
<line x1="478.5" y1="517.5" x2="478.5" y2="551.50" stroke="#2a2a2a" stroke-width="1"/>
<line x1="476.0" y1="517.5" x2="481.0" y2="517.5" stroke="#2a2a2a" stroke-width="1"/>
<text transform="translate(448.9,757.3) rotate(-45)" text-anchor="end" font-family='"Liberation Serif", serif' font-weight="bold" font-size="17">CI-1040+9-cis RA</text>
<rect x="77.5" y="490.2" width="11.5" height="11.5" fill="#ffffff" stroke="#888" stroke-width="1"/>
<text x="93.5" y="501.7" font-family='"Liberation Serif", serif' font-weight="bold" font-size="16.5">48 h</text>
<rect x="77.5" y="513.2" width="11.5" height="11.5" fill="#9a9a9a" stroke="#9a9a9a" stroke-width="1"/>
<text x="93.5" y="524.7" font-family='"Liberation Serif", serif' font-weight="bold" font-size="16.5">72 h</text>
<rect x="77.5" y="536.2" width="11.5" height="11.5" fill="#000000" stroke="#000000" stroke-width="1"/>
<text x="93.5" y="547.7" font-family='"Liberation Serif", serif' font-weight="bold" font-size="16.5">96 h</text>
<text transform="translate(1.3,901.2) scale(0.92,1)" font-family='"Liberation Sans", sans-serif' font-weight="bold" font-size="33">C</text>
<line x1="65.7" y1="919.3" x2="65.7" y2="1155.9" stroke="#c4c4c4" stroke-width="1"/>
<line x1="60.7" y1="1155.9" x2="65.7" y2="1155.9" stroke="#c4c4c4" stroke-width="1"/>
<text x="53" y="1161.5" text-anchor="end" font-family='"Liberation Serif", serif' font-weight="bold" font-size="17">0</text>
<line x1="60.7" y1="1108.6" x2="65.7" y2="1108.6" stroke="#c4c4c4" stroke-width="1"/>
<text x="53" y="1114.2" text-anchor="end" font-family='"Liberation Serif", serif' font-weight="bold" font-size="17">20</text>
<line x1="60.7" y1="1061.3" x2="65.7" y2="1061.3" stroke="#c4c4c4" stroke-width="1"/>
<text x="53" y="1066.9" text-anchor="end" font-family='"Liberation Serif", serif' font-weight="bold" font-size="17">40</text>
<line x1="60.7" y1="1013.9" x2="65.7" y2="1013.9" stroke="#c4c4c4" stroke-width="1"/>
<text x="53" y="1019.5" text-anchor="end" font-family='"Liberation Serif", serif' font-weight="bold" font-size="17">60</text>
<line x1="60.7" y1="966.6" x2="65.7" y2="966.6" stroke="#c4c4c4" stroke-width="1"/>
<text x="53" y="972.2" text-anchor="end" font-family='"Liberation Serif", serif' font-weight="bold" font-size="17">80</text>
<line x1="60.7" y1="919.3" x2="65.7" y2="919.3" stroke="#c4c4c4" stroke-width="1"/>
<text x="53" y="924.9" text-anchor="end" font-family='"Liberation Serif", serif' font-weight="bold" font-size="17">100</text>
<line x1="65.7" y1="1155.9" x2="497.4" y2="1155.9" stroke="#c4c4c4" stroke-width="1"/>
<line x1="65.7" y1="1155.9" x2="65.7" y2="1159.9" stroke="#c4c4c4" stroke-width="1"/>
<line x1="152.2" y1="1155.9" x2="152.2" y2="1159.9" stroke="#c4c4c4" stroke-width="1"/>
<line x1="238.7" y1="1155.9" x2="238.7" y2="1159.9" stroke="#c4c4c4" stroke-width="1"/>
<line x1="325.2" y1="1155.9" x2="325.2" y2="1159.9" stroke="#c4c4c4" stroke-width="1"/>
<line x1="411.2" y1="1155.9" x2="411.2" y2="1159.9" stroke="#c4c4c4" stroke-width="1"/>
<line x1="497.4" y1="1155.9" x2="497.4" y2="1159.9" stroke="#c4c4c4" stroke-width="1"/>
<text transform="translate(15.6,1041.8) rotate(-90)" text-anchor="middle" font-family='"Liberation Serif", serif' font-weight="bold" font-size="17.2">Net apoptosis induction (%)</text>
<rect x="73.50" y="1154.50" width="23.00" height="1.40" fill="#ffffff" stroke="#202020" stroke-width="1"/>
<line x1="85.5" y1="1154.5" x2="85.5" y2="1155.5" stroke="#2a2a2a" stroke-width="1"/>
<line x1="83.0" y1="1154.5" x2="88.0" y2="1154.5" stroke="#2a2a2a" stroke-width="1"/>
<line x1="83.0" y1="1155.5" x2="88.0" y2="1155.5" stroke="#2a2a2a" stroke-width="1"/>
<rect x="96.50" y="1138.50" width="24.00" height="17.40" fill="#9a9a9a" stroke="#202020" stroke-width="1"/>
<line x1="108.5" y1="1136.5" x2="108.5" y2="1141.5" stroke="#2a2a2a" stroke-width="1"/>
<line x1="106.0" y1="1136.5" x2="111.0" y2="1136.5" stroke="#2a2a2a" stroke-width="1"/>
<line x1="106.0" y1="1141.5" x2="111.0" y2="1141.5" stroke="#2a2a2a" stroke-width="1"/>
<rect x="120.50" y="1130.50" width="23.00" height="25.40" fill="#000000" stroke="#202020" stroke-width="1"/>
<line x1="132.5" y1="1106.5" x2="132.5" y2="1130.50" stroke="#2a2a2a" stroke-width="1"/>
<line x1="130.0" y1="1106.5" x2="135.0" y2="1106.5" stroke="#2a2a2a" stroke-width="1"/>
<text transform="translate(102.9,1183.7) rotate(-45)" text-anchor="end" font-family='"Liberation Serif", serif' font-weight="bold" font-size="17">ATRA</text>
<rect x="159.50" y="1151.50" width="24.00" height="4.40" fill="#ffffff" stroke="#202020" stroke-width="1"/>
<line x1="171.5" y1="1148.5" x2="171.5" y2="1155.5" stroke="#2a2a2a" stroke-width="1"/>
<line x1="169.0" y1="1148.5" x2="174.0" y2="1148.5" stroke="#2a2a2a" stroke-width="1"/>
<line x1="169.0" y1="1155.5" x2="174.0" y2="1155.5" stroke="#2a2a2a" stroke-width="1"/>
<rect x="183.50" y="1147.50" width="23.00" height="8.40" fill="#9a9a9a" stroke="#202020" stroke-width="1"/>
<line x1="195.5" y1="1140.5" x2="195.5" y2="1152.5" stroke="#2a2a2a" stroke-width="1"/>
<line x1="193.0" y1="1140.5" x2="198.0" y2="1140.5" stroke="#2a2a2a" stroke-width="1"/>
<line x1="193.0" y1="1152.5" x2="198.0" y2="1152.5" stroke="#2a2a2a" stroke-width="1"/>
<rect x="206.50" y="1132.50" width="23.00" height="23.40" fill="#000000" stroke="#202020" stroke-width="1"/>
<line x1="218.5" y1="1114.5" x2="218.5" y2="1132.50" stroke="#2a2a2a" stroke-width="1"/>
<line x1="216.0" y1="1114.5" x2="221.0" y2="1114.5" stroke="#2a2a2a" stroke-width="1"/>
<text transform="translate(189.4,1183.7) rotate(-45)" text-anchor="end" font-family='"Liberation Serif", serif' font-weight="bold" font-size="17">9-cis RA</text>
<rect x="246.50" y="1144.50" width="23.00" height="11.40" fill="#ffffff" stroke="#202020" stroke-width="1"/>
<line x1="258.5" y1="1138.5" x2="258.5" y2="1149.5" stroke="#2a2a2a" stroke-width="1"/>
<line x1="256.0" y1="1138.5" x2="261.0" y2="1138.5" stroke="#2a2a2a" stroke-width="1"/>
<line x1="256.0" y1="1149.5" x2="261.0" y2="1149.5" stroke="#2a2a2a" stroke-width="1"/>
<rect x="269.50" y="1120.50" width="24.00" height="35.40" fill="#9a9a9a" stroke="#202020" stroke-width="1"/>
<line x1="281.5" y1="1114.5" x2="281.5" y2="1126.5" stroke="#2a2a2a" stroke-width="1"/>
<line x1="279.0" y1="1114.5" x2="284.0" y2="1114.5" stroke="#2a2a2a" stroke-width="1"/>
<line x1="279.0" y1="1126.5" x2="284.0" y2="1126.5" stroke="#2a2a2a" stroke-width="1"/>
<rect x="293.50" y="1108.50" width="23.00" height="47.40" fill="#000000" stroke="#202020" stroke-width="1"/>
<line x1="305.5" y1="1105.5" x2="305.5" y2="1108.50" stroke="#2a2a2a" stroke-width="1"/>
<line x1="303.0" y1="1105.5" x2="308.0" y2="1105.5" stroke="#2a2a2a" stroke-width="1"/>
<text transform="translate(275.9,1183.7) rotate(-45)" text-anchor="end" font-family='"Liberation Serif", serif' font-weight="bold" font-size="17">CI-1040</text>
<rect x="332.50" y="1123.50" width="24.00" height="32.40" fill="#ffffff" stroke="#202020" stroke-width="1"/>
<line x1="344.5" y1="1115.5" x2="344.5" y2="1132.5" stroke="#2a2a2a" stroke-width="1"/>
<line x1="342.0" y1="1115.5" x2="347.0" y2="1115.5" stroke="#2a2a2a" stroke-width="1"/>
<line x1="342.0" y1="1132.5" x2="347.0" y2="1132.5" stroke="#2a2a2a" stroke-width="1"/>
<rect x="356.50" y="1083.50" width="23.00" height="72.40" fill="#9a9a9a" stroke="#202020" stroke-width="1"/>
<line x1="368.5" y1="1068.5" x2="368.5" y2="1098.5" stroke="#2a2a2a" stroke-width="1"/>
<line x1="366.0" y1="1068.5" x2="371.0" y2="1068.5" stroke="#2a2a2a" stroke-width="1"/>
<line x1="366.0" y1="1098.5" x2="371.0" y2="1098.5" stroke="#2a2a2a" stroke-width="1"/>
<rect x="379.50" y="1005.50" width="23.00" height="150.40" fill="#000000" stroke="#202020" stroke-width="1"/>
<line x1="391.5" y1="992.5" x2="391.5" y2="1005.50" stroke="#2a2a2a" stroke-width="1"/>
<line x1="389.0" y1="992.5" x2="394.0" y2="992.5" stroke="#2a2a2a" stroke-width="1"/>
<text transform="translate(362.4,1183.7) rotate(-45)" text-anchor="end" font-family='"Liberation Serif", serif' font-weight="bold" font-size="17">CI-1040+ATRA</text>
<rect x="419.50" y="1119.50" width="23.00" height="36.40" fill="#ffffff" stroke="#202020" stroke-width="1"/>
<line x1="431.5" y1="1100.5" x2="431.5" y2="1139.5" stroke="#2a2a2a" stroke-width="1"/>
<line x1="429.0" y1="1100.5" x2="434.0" y2="1100.5" stroke="#2a2a2a" stroke-width="1"/>
<line x1="429.0" y1="1139.5" x2="434.0" y2="1139.5" stroke="#2a2a2a" stroke-width="1"/>
<rect x="442.50" y="1081.50" width="24.00" height="74.40" fill="#9a9a9a" stroke="#202020" stroke-width="1"/>
<line x1="454.5" y1="1075.5" x2="454.5" y2="1087.5" stroke="#2a2a2a" stroke-width="1"/>
<line x1="452.0" y1="1075.5" x2="457.0" y2="1075.5" stroke="#2a2a2a" stroke-width="1"/>
<line x1="452.0" y1="1087.5" x2="457.0" y2="1087.5" stroke="#2a2a2a" stroke-width="1"/>
<rect x="466.50" y="993.50" width="23.00" height="162.40" fill="#000000" stroke="#202020" stroke-width="1"/>
<line x1="478.5" y1="976.5" x2="478.5" y2="993.50" stroke="#2a2a2a" stroke-width="1"/>
<line x1="476.0" y1="976.5" x2="481.0" y2="976.5" stroke="#2a2a2a" stroke-width="1"/>
<text transform="translate(448.9,1183.7) rotate(-45)" text-anchor="end" font-family='"Liberation Serif", serif' font-weight="bold" font-size="17">CI-1040+9-cis RA</text>
<rect x="77.5" y="918.5" width="11.5" height="11.5" fill="#ffffff" stroke="#888" stroke-width="1"/>
<text x="93.5" y="930.0" font-family='"Liberation Serif", serif' font-weight="bold" font-size="16.5">48 h</text>
<rect x="77.5" y="941.5" width="11.5" height="11.5" fill="#9a9a9a" stroke="#9a9a9a" stroke-width="1"/>
<text x="93.5" y="953.0" font-family='"Liberation Serif", serif' font-weight="bold" font-size="16.5">72 h</text>
<rect x="77.5" y="964.5" width="11.5" height="11.5" fill="#000000" stroke="#000000" stroke-width="1"/>
<text x="93.5" y="976.0" font-family='"Liberation Serif", serif' font-weight="bold" font-size="16.5">96 h</text>
</svg>
</body></html>
